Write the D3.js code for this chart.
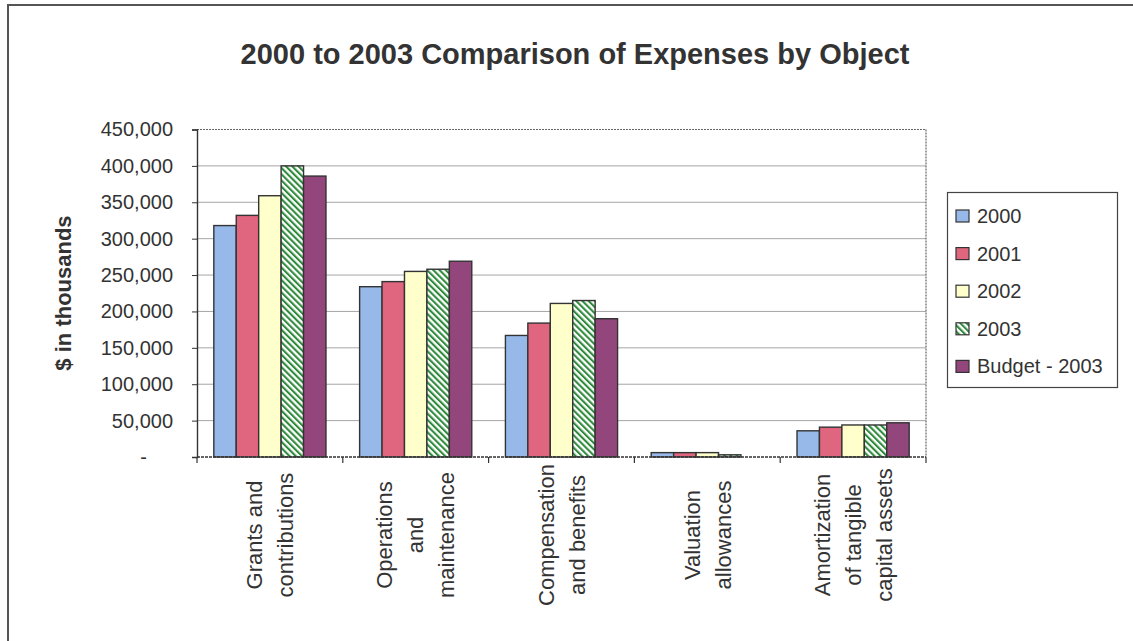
<!DOCTYPE html>
<html>
<head>
<meta charset="utf-8">
<script src="https://cdn.jsdelivr.net/npm/d3@7"></script>
<style>
  body { margin: 0; background: #fff; }
  svg { display: block; font-family: "Liberation Sans", Arial, sans-serif; }
</style>
</head>
<body>
<svg id="chart" width="1133" height="641"></svg>
<script>
// Expense categories (x axis) and the line breaks used for their labels
const categories = [
  "Grants and contributions",
  "Operations and maintenance",
  "Compensation and benefits",
  "Valuation allowances",
  "Amortization of tangible capital assets"
];
const categoryLines = [
  ["Grants and", "contributions"],
  ["Operations", "and", "maintenance"],
  ["Compensation", "and benefits"],
  ["Valuation", "allowances"],
  ["Amortization", "of tangible", "capital assets"]
];

// Series, $ in thousands, in category order
const seriesNames = ["2000", "2001", "2002", "2003", "Budget - 2003"];
const values2000   = [318000, 234000, 167000, 6000, 36000];
const values2001   = [332000, 241000, 184000, 6000, 41000];
const values2002   = [359000, 255000, 211000, 6000, 44000];
const values2003   = [400000, 258000, 215000, 3000, 44000];
const valuesBudget = [386000, 269000, 190000, 0, 47000];
const seriesValues = [values2000, values2001, values2002, values2003, valuesBudget];

// Value axis ticks
const yTicks = [0, 50000, 100000, 150000, 200000, 250000, 300000, 350000, 400000, 450000];

const title = "2000 to 2003 Comparison of Expenses by Object";
const yTitle = "$ in thousands";

const fills = ["#96b9ea", "#e0667f", "#ffffcc", "url(#hatch2003)", "#93467c"];

const svg = d3.select("#chart");

// Hatch used by the 2003 series
const defs = svg.append("defs");
const pat = defs.append("pattern")
  .attr("id", "hatch2003")
  .attr("patternUnits", "userSpaceOnUse")
  .attr("width", 4.4).attr("height", 4.4)
  .attr("patternTransform", "rotate(-45)");
pat.append("rect").attr("width", 4.4).attr("height", 4.4).attr("fill", "#ffffff");
pat.append("rect").attr("x", 0).attr("width", 2.1).attr("height", 4.4).attr("fill", "#2f8a3c");

// Outer chart frame
svg.append("rect")
  .attr("x", 8).attr("y", 5).attr("width", 1200).attr("height", 700)
  .attr("fill", "none").attr("stroke", "#555").attr("stroke-width", 2);

const plot = { left: 197, right: 926, top: 129.5, bottom: 457 };

const x = d3.scaleBand().domain(categories).range([plot.left, plot.right]);
const xs = d3.scaleBand().domain(seriesNames).range([0, x.bandwidth()]).paddingOuter(0.75);
const y = d3.scaleLinear().domain([0, 450000]).range([plot.bottom, plot.top]);

// Title
svg.append("text")
  .attr("x", 575).attr("y", 64)
  .attr("text-anchor", "middle")
  .attr("font-size", 29).attr("font-weight", "bold").attr("fill", "#333")
  .text(title);

// Horizontal gridlines
svg.append("g").selectAll("line")
  .data(yTicks.filter(d => d > 0 && d < 450000))
  .join("line")
  .attr("x1", plot.left).attr("x2", plot.right)
  .attr("y1", d => y(d)).attr("y2", d => y(d))
  .attr("stroke", "#a6a6a6").attr("stroke-width", 1);

// Plot-area border (top and right)
svg.append("path")
  .attr("d", `M${plot.left},${plot.top}H${plot.right}V${plot.bottom}`)
  .attr("fill", "none").attr("stroke", "#666").attr("stroke-width", 1.2)
  .attr("stroke-dasharray", "2,1");

// Bars
const groups = svg.append("g").selectAll("g")
  .data(seriesNames)
  .join("g")
  .attr("fill", (d, i) => fills[i]);

groups.selectAll("rect")
  .data((s, si) => categories.map((c, ci) => ({ c, s, v: seriesValues[si][ci] })))
  .join("rect")
  .filter(d => d.v > 0)
  .attr("x", d => x(d.c) + xs(d.s))
  .attr("y", d => y(d.v))
  .attr("width", xs.bandwidth())
  .attr("height", d => y(0) - y(d.v))
  .attr("stroke", "#333").attr("stroke-width", 1.4);

// Value axis
const yAxis = svg.append("g")
  .attr("transform", `translate(${plot.left},0)`)
  .call(d3.axisLeft(y).tickValues(yTicks).tickSize(5).tickPadding(19)
    .tickFormat(d => d === 0 ? "-" : d3.format(",")(d)));
yAxis.select(".domain").attr("stroke", "#333").attr("stroke-width", 1.4);
yAxis.selectAll(".tick line").attr("stroke", "#333");
yAxis.selectAll(".tick text")
  .attr("font-size", 20).attr("fill", "#333")
  .attr("font-family", "\"Liberation Sans\", Arial, sans-serif");
yAxis.selectAll(".tick text").filter(d => d === 0).attr("dx", -26);

// Category axis line and boundary ticks
svg.append("line")
  .attr("x1", plot.left).attr("x2", plot.right)
  .attr("y1", plot.bottom).attr("y2", plot.bottom)
  .attr("stroke", "#333").attr("stroke-width", 1.4)
  .attr("stroke-dasharray", "3,1");
const bounds = categories.map(c => x(c)).concat([plot.right]);
svg.append("g").selectAll("line")
  .data(bounds)
  .join("line")
  .attr("x1", d => d).attr("x2", d => d)
  .attr("y1", plot.bottom).attr("y2", plot.bottom + 6)
  .attr("stroke", "#333").attr("stroke-width", 1.2);

// Rotated category labels
const lineGap = 31;
const catLabels = svg.append("g").selectAll("g")
  .data(categories)
  .join("g");
catLabels.each(function (c, ci) {
  const lines = categoryLines[ci];
  const cx = x(c) + x.bandwidth() / 2;
  lines.forEach((ln, li) => {
    const lx = cx + (li - (lines.length - 1) / 2) * lineGap;
    d3.select(this).append("text")
      .attr("transform", `translate(${lx},535) rotate(-90)`)
      .attr("text-anchor", "middle")
      .attr("dy", "0.35em")
      .attr("font-size", 22).attr("fill", "#333")
      .text(ln);
  });
});

// Value axis title
svg.append("text")
  .attr("transform", "translate(63,293) rotate(-90)")
  .attr("text-anchor", "middle").attr("dy", "0.35em")
  .attr("font-size", 22).attr("font-weight", "bold").attr("fill", "#333")
  .text(yTitle);

// Legend
const legend = svg.append("g");
legend.append("rect")
  .attr("x", 947.5).attr("y", 192.5).attr("width", 170).attr("height", 195)
  .attr("fill", "#fff").attr("stroke", "#444").attr("stroke-width", 1.2);
const items = legend.selectAll("g.item")
  .data(seriesNames)
  .join("g").attr("class", "item")
  .attr("transform", (d, i) => `translate(0,${216 + i * 37.6})`);
items.append("rect")
  .attr("x", 956).attr("y", -6).attr("width", 13).attr("height", 12)
  .attr("fill", (d, i) => fills[i]).attr("stroke", "#333").attr("stroke-width", 1.2);
items.append("text")
  .attr("x", 977).attr("dy", "0.35em")
  .attr("font-size", 20).attr("fill", "#333")
  .text(d => d);
</script>
</body>
</html>
